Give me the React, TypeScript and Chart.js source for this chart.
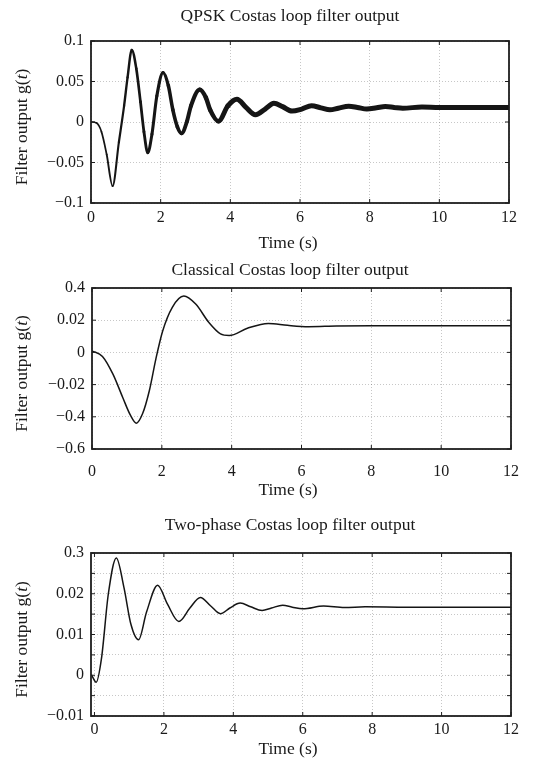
import React, { useEffect, useRef } from "react";
import { Chart, registerables } from "chart.js";

Chart.register(...registerables);

const FONT = '"Liberation Serif", "Times New Roman", serif';

// ---------- data ----------
const xTicks = [0, 2, 4, 6, 8, 10, 12];

const qpskTime = [0, 0.15, 0.3, 0.45, 0.62, 0.8, 0.95, 1.05, 1.17, 1.3, 1.42, 1.52, 1.63, 1.75, 1.89, 2.07, 2.22, 2.35, 2.48, 2.6, 2.75, 2.87, 3.12, 3.3, 3.42, 3.66, 3.93, 4.19, 4.45, 4.72, 5.0, 5.25, 5.5, 5.77, 6.05, 6.33, 6.6, 6.86, 7.1, 7.4, 7.65, 7.92, 8.2, 8.45, 8.7, 8.95, 9.5, 10, 11, 12];
const qpskValue = [0, -0.001, -0.012, -0.04, -0.079, -0.025, 0.02, 0.055, 0.089, 0.066, 0.025, -0.012, -0.038, -0.015, 0.032, 0.061, 0.045, 0.015, -0.006, -0.014, 0.0, 0.02, 0.04, 0.03, 0.015, 0.001, 0.02, 0.028, 0.018, 0.009, 0.016, 0.023, 0.019, 0.0135, 0.016, 0.02, 0.0175, 0.015, 0.017, 0.0195, 0.018, 0.016, 0.0175, 0.019, 0.018, 0.017, 0.0185, 0.0178, 0.018, 0.018];
const qpskYTicks = [-0.1, -0.05, 0, 0.05, 0.1];
const qpskYLabels = ["\u22120.1", "\u22120.05", "0", "0.05", "0.1"];

const classicalTime = [0, 0.3, 0.6, 0.88, 1.1, 1.27, 1.45, 1.64, 1.83, 2.02, 2.3, 2.63, 2.97, 3.35, 3.68, 3.93, 4.45, 5.05, 5.6, 6.2, 7, 8, 12];
const classicalValue = [0.01, -0.025, -0.135, -0.28, -0.39, -0.44, -0.38, -0.24, -0.04, 0.13, 0.28, 0.35, 0.3, 0.185, 0.115, 0.105, 0.15, 0.18, 0.168, 0.16, 0.164, 0.166, 0.165];
const classicalYTicks = [-0.6, -0.4, -0.2, 0, 0.2, 0.4];
const classicalYLabels = ["\u22120.6", "\u22120.4", "\u22120.02", "0", "0.02", "0.4"];

const twoPhaseTime = [-0.08, 0.05, 0.2, 0.4, 0.63, 0.85, 1.05, 1.27, 1.5, 1.82, 2.1, 2.43, 2.75, 3.05, 3.35, 3.63, 3.9, 4.2, 4.5, 4.83, 5.1, 5.42, 5.7, 6.0, 6.6, 7.2, 7.8, 9, 12];
const twoPhaseValue = [0.0, -0.0017, 0.004, 0.02, 0.0288, 0.0215, 0.0125, 0.0087, 0.0155, 0.0221, 0.0175, 0.0132, 0.0165, 0.0191, 0.017, 0.0151, 0.0165, 0.0177, 0.0168, 0.0159, 0.0165, 0.0172, 0.0167, 0.0163, 0.017, 0.0166, 0.0168, 0.0167, 0.0167];
const twoPhaseYTicks = [-0.01, -0.005, 0, 0.005, 0.01, 0.015, 0.02, 0.025, 0.03];
const twoPhaseYLabels = ["\u22120.01", "", "0", "", "0.01", "", "0.02", "", "0.3"];

// ---------- layout ----------
type Panel = {
  title: string;
  time: number[];
  value: number[];
  yTicks: number[];
  yLabels: string[];
  xMin: number;
  xMax: number;
  area: { l: number; t: number; r: number; b: number };
  titleY: number;
  xTickPad: number;
  xTitleY: number;
  thick?: boolean;
};

const W = 536;
const H = 767;

const panels: Panel[] = [
  {
    title: "QPSK Costas loop filter output",
    time: qpskTime, value: qpskValue, yTicks: qpskYTicks, yLabels: qpskYLabels,
    xMin: 0, xMax: 12,
    area: { l: 91, t: 41, r: 509, b: 203 },
    titleY: 16, xTickPad: 5, xTitleY: 243, thick: true,
  },
  {
    title: "Classical Costas loop filter output",
    time: classicalTime, value: classicalValue, yTicks: classicalYTicks, yLabels: classicalYLabels,
    xMin: 0, xMax: 12,
    area: { l: 92, t: 288, r: 511, b: 449 },
    titleY: 270, xTickPad: 13, xTitleY: 490,
  },
  {
    title: "Two-phase Costas loop filter output",
    time: twoPhaseTime, value: twoPhaseValue, yTicks: twoPhaseYTicks, yLabels: twoPhaseYLabels,
    xMin: -0.1, xMax: 12,
    area: { l: 91, t: 553, r: 511, b: 716 },
    titleY: 525, xTickPad: 4.5, xTitleY: 749,
  },
];

const framePlugin = {
  id: "frame",
  afterDraw(chart: any, _args: any, opts: any) {
    const { ctx, chartArea: a, scales } = chart;
    ctx.save();
    ctx.strokeStyle = "#1e1e1e";
    ctx.lineWidth = 1;
    const tl = 4;
    const line = (x1: number, y1: number, x2: number, y2: number) => {
      ctx.beginPath();
      ctx.moveTo(x1, y1);
      ctx.lineTo(x2, y2);
      ctx.stroke();
    };
    scales.x.ticks.forEach((t: any) => {
      const px = scales.x.getPixelForValue(t.value);
      line(px, a.bottom, px, a.bottom - tl);
      line(px, a.top, px, a.top + tl);
    });
    scales.y.ticks.forEach((t: any) => {
      const py = scales.y.getPixelForValue(t.value);
      line(a.left, py, a.left + tl, py);
      line(a.right, py, a.right - tl, py);
    });
    ctx.lineWidth = 1.8;
    ctx.strokeRect(a.left, a.top, a.right - a.left, a.bottom - a.top);

    ctx.fillStyle = "#1a1a1a";
    ctx.textAlign = "center";
    ctx.textBaseline = "middle";
    ctx.font = `17.5px ${FONT}`;
    ctx.fillText(opts.title, 290, opts.titleY);
    ctx.fillText("Time (s)", 288, opts.xTitleY);

    // y label with italic t
    const normal = `17.5px ${FONT}`;
    const italic = `italic 17.5px ${FONT}`;
    const p1 = "Filter output g(";
    const p2 = "t";
    const p3 = ")";
    ctx.font = normal;
    const w1 = ctx.measureText(p1).width;
    const w3 = ctx.measureText(p3).width;
    ctx.font = italic;
    const w2 = ctx.measureText(p2).width;
    const total = w1 + w2 + w3;
    ctx.translate(22, (a.top + a.bottom) / 2 + 5);
    ctx.rotate(-Math.PI / 2);
    ctx.textAlign = "left";
    let x = -total / 2;
    ctx.font = normal;
    ctx.fillText(p1, x, 0);
    x += w1;
    ctx.font = italic;
    ctx.fillText(p2, x, 0);
    x += w2;
    ctx.font = normal;
    ctx.fillText(p3, x, 0);
    ctx.restore();
  },
};

function PanelChart({ p }: { p: Panel }) {
  const ref = useRef<HTMLCanvasElement | null>(null);
  useEffect(() => {
    if (!ref.current) return;
    const data = p.time.map((t, i) => ({ x: t, y: p.value[i] }));
    const yMin = p.yTicks[0];
    const yMax = p.yTicks[p.yTicks.length - 1];
    const chart = new Chart(ref.current, {
      type: "line",
      data: {
        datasets: [
          {
            data,
            borderColor: "#151515",
            borderWidth: 1.5,
            pointRadius: 0,
            cubicInterpolationMode: "monotone",
            borderJoinStyle: "round",
            borderCapStyle: "round",
            fill: false,
            segment: p.thick
              ? {
                  borderWidth: (c: any) => Math.min(5, 1.5 + 0.9 * Math.max(0, c.p0.parsed.x)),
                }
              : undefined,
          } as any,
        ],
      },
      options: {
        responsive: false,
        animation: false,
        layout: {
          padding: {
            left: 0,
            top: p.area.t,
            right: W - p.area.r,
            bottom: 0,
          },
        },
        plugins: {
          legend: { display: false },
          tooltip: { enabled: false },
          title: { display: false },
          frame: {
            title: p.title,
            titleY: p.titleY,
            xTitleY: p.xTitleY,
          },
        } as any,
        scales: {
          x: {
            type: "linear",
            min: p.xMin,
            max: p.xMax,
            afterBuildTicks: (s: any) => {
              s.ticks = xTicks.map((v) => ({ value: v }));
            },
            afterFit: (s: any) => {
              s.height = H - p.area.b;
            },
            ticks: {
              autoSkip: false,
              maxRotation: 0,
              padding: p.xTickPad,
              color: "#1a1a1a",
              font: { family: FONT, size: 16 },
              callback: (v: any) => String(v),
            },
            grid: {
              drawTicks: false,
              color: "rgba(0,0,0,0.22)",
              lineWidth: 1,
            },
            border: { display: false, dash: [1, 2] },
          },
          y: {
            type: "linear",
            min: yMin,
            max: yMax,
            afterBuildTicks: (s: any) => {
              s.ticks = p.yTicks.map((v) => ({ value: v }));
            },
            afterFit: (s: any) => {
              s.width = p.area.l;
            },
            ticks: {
              autoSkip: false,
              padding: 7,
              color: "#1a1a1a",
              font: { family: FONT, size: 16 },
              callback: (_v: any, i: number) => p.yLabels[i],
            },
            grid: {
              drawTicks: false,
              color: "rgba(0,0,0,0.22)",
              lineWidth: 1,
            },
            border: { display: false, dash: [1, 2] },
          },
        },
      },
      plugins: [framePlugin as any],
    });
    return () => chart.destroy();
  }, [p]);
  return (
    <canvas
      ref={ref}
      width={W}
      height={H}
      style={{ position: "absolute", left: 0, top: 0, width: W, height: H }}
    />
  );
}

export default function App() {
  return (
    <div style={{ position: "absolute", left: 0, top: 0, width: W, height: H, background: "#fff" }}>
      {panels.map((p, i) => (
        <PanelChart key={i} p={p} />
      ))}
    </div>
  );
}
